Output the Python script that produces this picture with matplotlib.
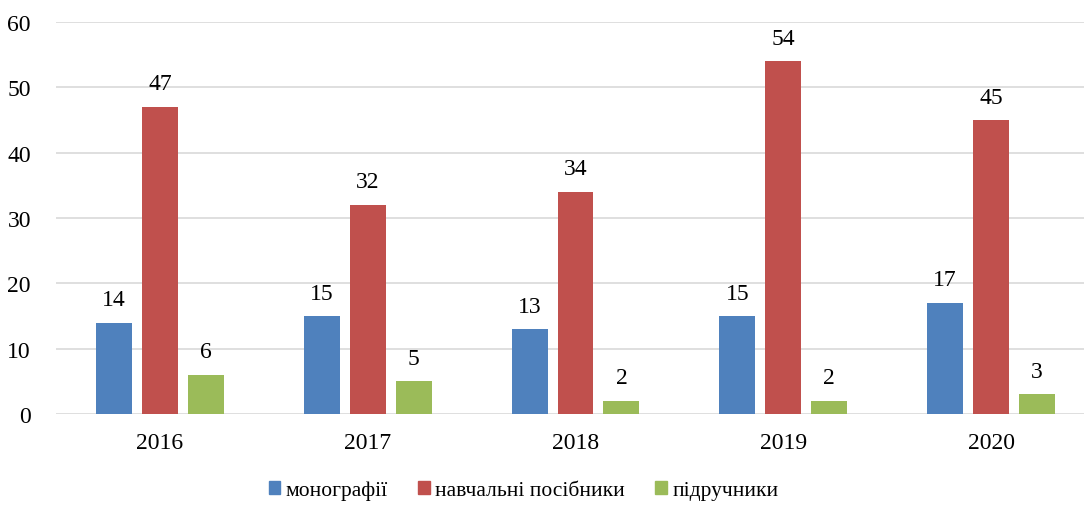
import numpy as np
import matplotlib.pyplot as plt
from matplotlib.patches import Patch

years = ['2016', '2017', '2018', '2019', '2020']
monographs = [14, 15, 13, 15, 17]
manuals = [47, 32, 34, 54, 45]
textbooks = [6, 5, 2, 2, 3]
labels = ['монографії', 'навчальні посібники', 'підручники']
colors = ['#4f81bd', '#c0504d', '#9bbb59']

plt.rcParams['font.family'] = ['Liberation Serif', 'DejaVu Serif']

fig = plt.figure(figsize=(10.84, 5.06), dpi=100)
ax = fig.add_axes([56 / 1084, 91 / 506, 1039 / 1084, 392 / 506])

x = np.arange(len(years))
width = 0.173
step = 0.221
for i, (vals, color, label) in enumerate(zip([monographs, manuals, textbooks], colors, labels)):
    pos = x + (i - 1) * step
    ax.bar(pos, vals, width, color=color, label=label, zorder=3)
    for px, v in zip(pos, vals):
        ax.annotate(str(v), (px, v), xytext=(0, 9), textcoords='offset points',
                    ha='center', va='bottom', fontsize=17)

ax.set_xlim(-0.5, 4.5)
ax.set_ylim(0, 60)
ax.set_yticks(range(0, 61, 10))
ax.set_xticks(x)
ax.set_xticklabels(years)
ax.tick_params(length=0, labelsize=17)
ax.tick_params(axis='x', pad=13)
ax.tick_params(axis='y', pad=18)
ax.grid(axis='y', color='#d9d9d9', linewidth=1.2, zorder=0)
for s in ax.spines.values():
    s.set_visible(False)

handles = [Patch(color=c) for c in colors]
fig.legend(handles, labels, loc='lower center', bbox_to_anchor=(0.483, -0.028), ncol=3,
           frameon=False, fontsize=15.5, handlelength=0.55, handleheight=0.55,
           handletextpad=0.25, columnspacing=1.4)

fig.savefig('out.png', dpi=100)
